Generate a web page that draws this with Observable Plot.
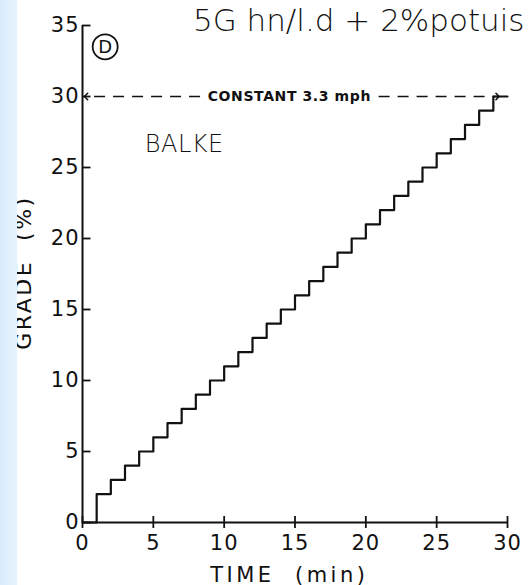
<!DOCTYPE html>
<html>
<head>
<meta charset="utf-8">
<script src="https://cdn.jsdelivr.net/npm/d3@7"></script>
<script src="https://cdn.jsdelivr.net/npm/@observablehq/plot@0.6"></script>
<style>
  body { margin: 0; background: #fff; }
  #wrap { position: relative; width: 528px; height: 585px; overflow: hidden; }
  #strip { position: absolute; left: 0; top: 0; width: 17px; height: 585px;
           background: linear-gradient(to right, #d9ecfc, #e6f3fe); }
  svg text { fill: #111; }
  .xlab text { letter-spacing: 3.5px; }
  .ylab text { letter-spacing: 2.5px; }
  .ticklab text { letter-spacing: 1px; }
  .speed text { letter-spacing: 0.6px; }
  .proto text { letter-spacing: 0.5px; }
</style>
</head>
<body>
<div id="wrap"><div id="chart"></div><div id="strip"></div></div>
<script>
// Balke protocol: grade (%) vs time (min), step changes each minute
const times  = [0, 1, 2, 3, 4, 5, 6, 7, 8, 9, 10, 11, 12, 13, 14, 15, 16, 17, 18, 19, 20, 21, 22, 23, 24, 25, 26, 27, 28, 29, 30];
const grades = [0, 2, 3, 4, 5, 6, 7, 8, 9, 10, 11, 12, 13, 14, 15, 16, 17, 18, 19, 20, 21, 22, 23, 24, 25, 26, 27, 28, 29, 30, 30];
const xTicks = [0, 5, 10, 15, 20, 25, 30];
const yTicks = [0, 5, 10, 15, 20, 25, 30, 35];
const speedLabel = "CONSTANT 3.3 mph";
const protocolLabel = "BALKE";
const panelLabel = "D";
const noteLabel = "5G hn/l.d + 2%potuis";
const xLabel = "TIME  (min)";
const yLabel = "GRADE  (%)";
const speedGrade = 30;

const steps = times.map((t, i) => ({t, g: grades[i]}));

const font = "DejaVu Sans, sans-serif";

const chart = Plot.plot({
  width: 528,
  height: 585,
  marginLeft: 82,
  marginRight: 21,
  marginTop: 25,
  marginBottom: 63,
  style: {fontFamily: font, fontSize: "21px", color: "#111", background: "transparent", overflow: "visible"},
  x: {domain: [0, 30]},
  y: {domain: [0, 35]},
  marks: [
    // tick labels
    Plot.axisY({ticks: yTicks, tickSize: 0, tickPadding: 3, fontSize: 21, label: null, className: "ticklab"}),
    Plot.axisX({ticks: xTicks, tickSize: 0, tickPadding: 13, fontSize: 21, label: null, className: "ticklab"}),
    // tick marks (y inward, x crossing)
    Plot.ruleY(yTicks, {y: d => d, x1: 0, x2: 0.6, stroke: "#111", strokeWidth: 1.8}),
    Plot.ruleX(xTicks, {x: d => d, y1: -0.42, y2: 0.42, stroke: "#111", strokeWidth: 1.8}),
    // axis lines
    Plot.ruleX([0], {stroke: "#111", strokeWidth: 2}),
    Plot.ruleY([0], {stroke: "#111", strokeWidth: 2}),
    // axis titles
    Plot.text([xLabel], {x: 14.6, frameAnchor: "bottom", lineAnchor: "bottom", dy: 59, text: d => d,
      fontSize: 21, className: "xlab"}),
    Plot.text([yLabel], {x: 0, y: 17.6, dx: -52, rotate: -90, lineAnchor: "bottom", text: d => d,
      fontSize: 22, className: "ylab"}),
    // staircase
    Plot.line(steps, {x: "t", y: "g", curve: "step-after", stroke: "#111", strokeWidth: 2.2}),
    // constant speed dashed arrows
    Plot.link([{x1: 8.3, x2: 0.25}], {x1: "x1", x2: "x2", y1: speedGrade, y2: speedGrade,
      stroke: "#111", strokeWidth: 1.6, strokeDasharray: "11,8", markerEnd: "arrow"}),
    Plot.link([{x1: 20.9, x2: 29.3}], {x1: "x1", x2: "x2", y1: speedGrade, y2: speedGrade,
      stroke: "#111", strokeWidth: 1.6, strokeDasharray: "11,8", markerEnd: "arrow"}),
    Plot.text([speedLabel], {x: 14.6, y: speedGrade, text: d => d, fontSize: 14, fontWeight: 600,
      fill: "#111", className: "speed"}),
    // annotations
    Plot.text([protocolLabel], {x: 4.4, y: 26.6, text: d => d, textAnchor: "start", fontSize: 24,
      fontWeight: 200, fill: "#222", className: "proto"}),
    Plot.dot([panelLabel], {x: 1.6, y: 33.5, r: 12.5, stroke: "#111", strokeWidth: 1.8}),
    Plot.text([panelLabel], {x: 1.6, y: 33.5, text: d => d, fontSize: 18, fill: "#111"}),
    Plot.text([noteLabel], {x: 19.5, y: 35.3, text: d => d, fontSize: 31, fontWeight: 200,
      fill: "#222"})
  ]
});
document.getElementById("chart").appendChild(chart);
</script>
</body>
</html>
